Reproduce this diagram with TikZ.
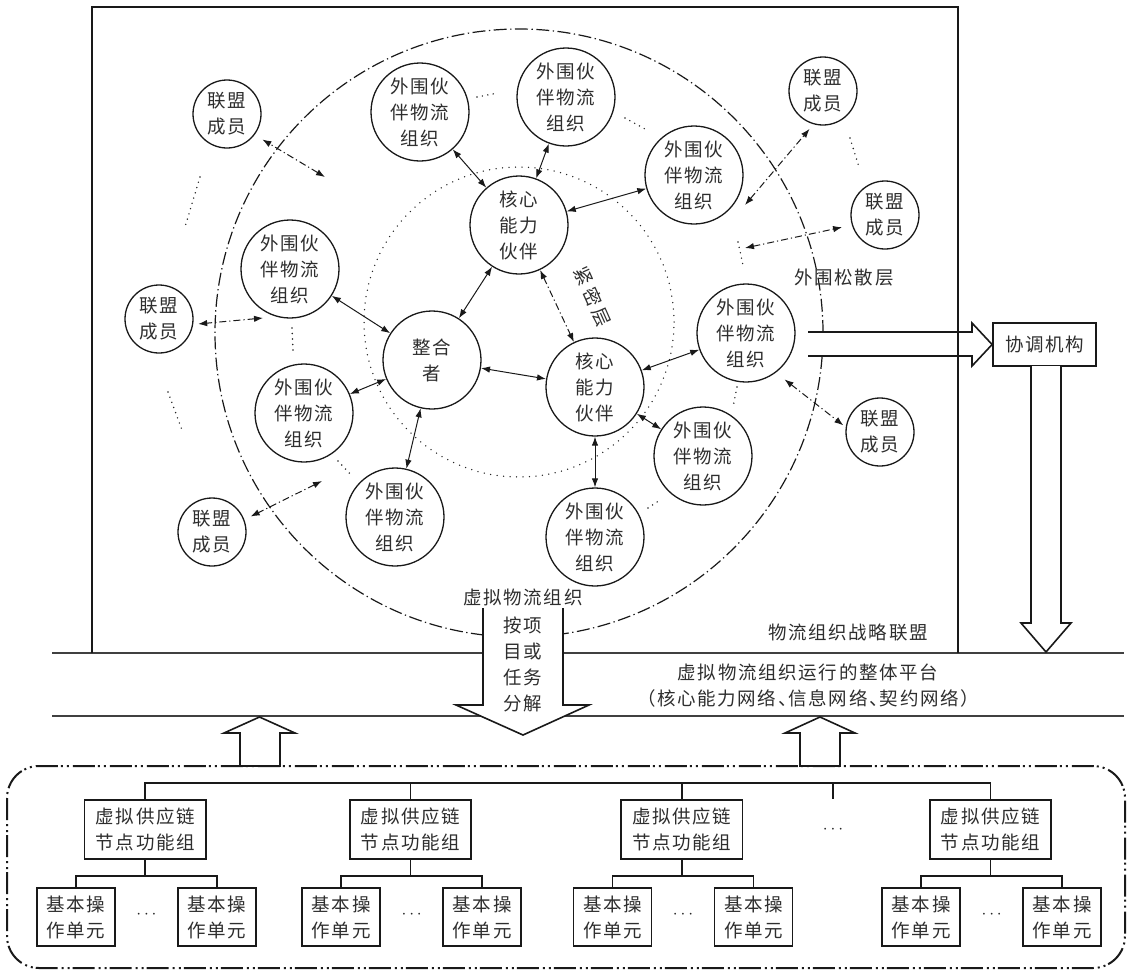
\documentclass[tikz,border=0pt]{standalone}
\usepackage{fontspec}
\newfontfamily\cjk[LetterSpace=9]{Noto Sans CJK SC}
\usetikzlibrary{arrows.meta}
\begin{document}
\begin{tikzpicture}[x=1pt,y=-1pt,
  txt/.style={font=\cjk\fontsize{18.5}{26}\selectfont,text=black!82,align=center,inner sep=0pt},
  bigc/.style={txt,circle,draw=black!90,line width=1.3pt,fill=white,minimum size=98pt},
  smallc/.style={txt,circle,draw=black!90,line width=1.3pt,fill=white,minimum size=68pt},
  mytip/.tip={Latex[length=9pt,width=6.5pt]},
  solidarr/.style={mytip-mytip,line width=1pt,draw=black!90},
  dasharr/.style={solidarr,dash pattern=on 7pt off 3pt on 1.2pt off 3pt},
  dotln/.style={line width=1.6pt,dash pattern=on 0pt off 5.5pt,line cap=round,draw=black!85},
  outerln/.style={line width=1.2pt,dash pattern=on 13pt off 3.5pt on 1.3pt off 3.5pt,draw=black!90},
  innerln/.style={line width=1.5pt,dash pattern=on 0pt off 6.5pt,line cap=round,draw=black!85},
  hline/.style={line width=1.5pt,draw=black!75},
  frameln/.style={line width=1.8pt,draw=black!90},
  fatarr/.style={draw=black!90,fill=white,line width=1.6pt,line join=miter},
  boxn/.style={txt,draw=black!90,line width=1.8pt,fill=white},
  treeln/.style={line width=1.8pt,draw=black!90},
  botbox/.style={line width=2pt,draw=black!90,dash pattern=on 22pt off 4pt on 2pt off 4pt on 2pt off 3pt},
  dotsn/.style={font=\fontsize{18}{20}\selectfont,text=black!85,inner sep=0pt}
]
\useasboundingbox (0,0) rectangle (1129,970);

% layers
\draw[outerln] (519,333) circle[radius=304pt];
\draw[innerln] (519,322) circle[radius=155pt];

% platform lines
\draw[hline] (52,653) -- (1124,653);
\draw[hline] (52,716) -- (1124,716);

% nodes of the alliance
\node[bigc] (c1) at (519,225) {核心\\能力\\伙伴};
\node[bigc] (c2) at (595,387) {核心\\能力\\伙伴};
\node[bigc] (ig) at (432,360) {整合\\者};
\node[bigc] (p1) at (420,112) {外围伙\\伴物流\\组织};
\node[bigc] (p2) at (566,97) {外围伙\\伴物流\\组织};
\node[bigc] (p3) at (694,175) {外围伙\\伴物流\\组织};
\node[bigc] (p4) at (290,269) {外围伙\\伴物流\\组织};
\node[bigc] (p5) at (304,413) {外围伙\\伴物流\\组织};
\node[bigc] (p6) at (395,517) {外围伙\\伴物流\\组织};
\node[bigc] (p7) at (595,537) {外围伙\\伴物流\\组织};
\node[bigc] (p8) at (703,456) {外围伙\\伴物流\\组织};
\node[bigc] (p9) at (746,333) {外围伙\\伴物流\\组织};
\node[smallc] (m1) at (227,114) {联盟\\成员};
\node[smallc] (m2) at (159,319) {联盟\\成员};
\node[smallc] (m3) at (212,532) {联盟\\成员};
\node[smallc] (m4) at (823,91) {联盟\\成员};
\node[smallc] (m5) at (885,215) {联盟\\成员};
\node[smallc] (m6) at (880,432) {联盟\\成员};

% solid links
\draw[solidarr] (p1) -- (c1);
\draw[solidarr] (p2) -- (c1);
\draw[solidarr] (p3) -- (c1);
\draw[solidarr] (c1) -- (ig);
\draw[solidarr] (p4) -- (ig);
\draw[solidarr] (p5) -- (ig);
\draw[solidarr] (p6) -- (ig);
\draw[solidarr] (ig) -- (c2);
\draw[solidarr] (c2) -- (p9);
\draw[solidarr] (c2) -- (p8);
\draw[solidarr] (c2) -- (p7);
\draw[dasharr] (c1) -- (c2);
\node[txt,rotate=-66] (tight) at (593,297) {紧\hspace{4pt}密\hspace{4pt}层};

% member links
\coordinate (f1) at (325,177);
\coordinate (f2) at (263,318);
\coordinate (f3) at (322,481);
\coordinate (f4) at (745,205);
\coordinate (f5) at (745,248);
\draw[dasharr,shorten >=9pt] (f1) -- (m1.323);
\draw[dasharr,shorten >=5pt] (f2) -- (m2.351);
\draw[dasharr,shorten >=7pt] (f3) -- (m3.21);
\draw[dasharr,shorten >=6pt] (f4) -- (m4.254);
\draw[dasharr,shorten >=10pt] (f5) -- (m5.197);
\draw[dasharr,shorten <=11pt,shorten >=3pt] (p9.307) -- (m6.172);

% ellipsis dots
\draw[dotln] (477,97) -- (498,93);
\draw[dotln] (625,118) -- (645,129);
\draw[dotln] (738,242) -- (743,265);
\draw[dotln] (292,328) -- (293,350);
\draw[dotln] (338,461) -- (353,477);
\draw[dotln] (648,508) -- (660,500);
\draw[dotln] (737,387) -- (733,407);
\draw[dotln] (200,177) -- (185,227);
\draw[dotln] (168,392) -- (182,430);
\draw[dotln] (850,138) -- (859,167);

% labels
\node[txt] (loose) at (844,278) {外围松散层};
\node[txt] (alli) at (848,632) {物流组织战略联盟};

% coordination
\node[boxn,minimum width=103pt,minimum height=43pt] (coord) at (1044.5,344.5) {协调机构};
\path[fatarr] (808,332) -- (972,332) -- (972,323) -- (coord.west) -- (972,366) -- (972,356) -- (808,356);
\path[fatarr] (1031,366) -- (1031,623) -- (1021,623) -- (1046,652) -- (1071,623) -- (1061,623) -- (1061,366);

% frame
\draw[frameln] (92,653) -- (92,7) -- (958,7) -- (958,653);

% decomposition arrow
\node[txt] (vlo) at (523,597) {虚拟物流组织};
\path[fatarr] (483,608) -- (483,705) -- (456,705) -- (523,735) -- (589,705) -- (563,705) -- (563,608);
\node[txt] (split) at (523,664) {按项\\目或\\任务\\分解};

% platform text
\node[txt,align=center] (plat) at (808,685.5) {虚拟物流组织运行的整体平台\\（核心能力网络、\hspace{-8pt}信息网络、\hspace{-8pt}契约网络）};

% bottom group
\draw[botbox,rounded corners=32pt] (7,766) rectangle (1125,968);
\path[fatarr] (240,766) -- (240,733) -- (224,733) -- (259.5,717) -- (295,733) -- (280,733) -- (280,766) -- cycle;
\path[fatarr] (800,766) -- (800,733) -- (785,733) -- (820,717) -- (855,733) -- (840,733) -- (840,766) -- cycle;

\foreach \g/\x in {1/145.3,2/410.5,3/681.8,4/990.5}{
  \node[boxn,minimum width=121.5pt,minimum height=59pt] (g\g) at (\x,829.5) {虚拟供应链\\节点功能组};
  \node[boxn,minimum width=78pt,minimum height=58pt] (b\g a) at (\x-69.3,917) {基本操\\作单元};
  \node[boxn,minimum width=78pt,minimum height=58pt] (b\g b) at (\x+71.7,917) {基本操\\作单元};
  \node[dotsn] (e\g) at (\x+1.2,915) {$\cdots$};
  \draw[treeln] (g\g.south) -- ++(0,16) coordinate (s\g);
  \draw[treeln] (b\g a.north) |- (s\g) -| (b\g b.north);
}
\draw[treeln] (g1.north) -- ++(0,-16) coordinate (t1) -- (t1 -| g4.north) -- (g4.north);
\draw[treeln] (g2.north) -- (g2.north |- t1);
\draw[treeln] (g3.north) -- (g3.north |- t1);
\coordinate (tm) at (833,784);
\coordinate (tmb) at (833,799);
\draw[treeln] (tm) -- (tmb);
\node[dotsn] (em) at (833,830) {$\cdots$};
\end{tikzpicture}
\end{document}
